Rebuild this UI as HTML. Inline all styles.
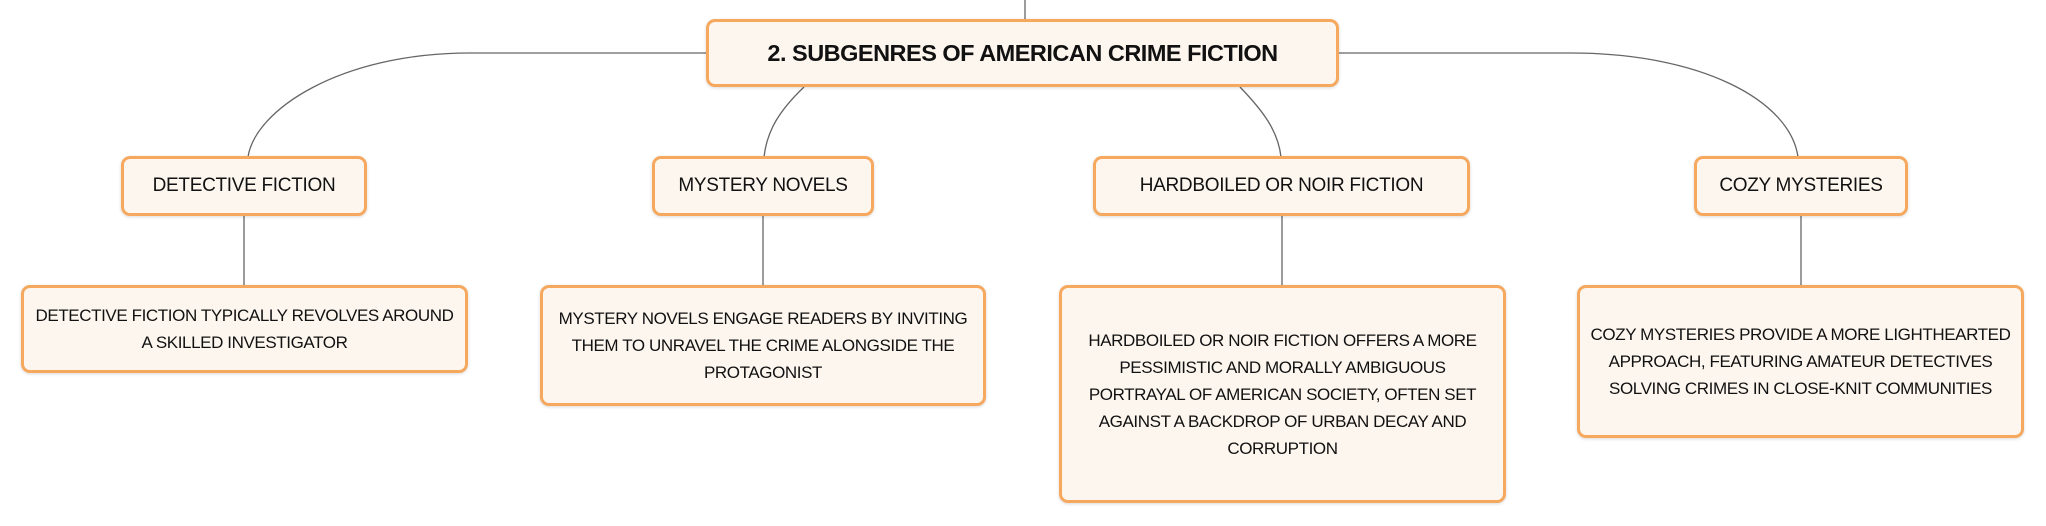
<!DOCTYPE html>
<html><head><meta charset="utf-8"><style>
html,body{margin:0;padding:0;background:#fff;}
body{width:2046px;height:526px;position:relative;overflow:hidden;font-family:"Liberation Sans",sans-serif;}
.b{position:absolute;box-sizing:border-box;background:#fdf6ef;border:3px solid #f5a85e;border-radius:9px;display:flex;align-items:center;justify-content:center;text-align:center;color:#111;box-shadow:0 1px 3px rgba(0,0,0,0.15);}
.t{font-size:19px;white-space:nowrap;letter-spacing:-0.3px;}
.d{font-size:17px;line-height:27px;white-space:nowrap;letter-spacing:-0.4px;}
svg{position:absolute;left:0;top:0;}
</style></head><body>
<svg width="2046" height="526" fill="none" stroke="#666" stroke-width="1.3">
<line x1="1025" y1="0" x2="1025" y2="20"/>
<path d="M706 53 L470 53 C340 53 255 110 248 157"/>
<path d="M804 87 C780 110 767 130 764 157"/>
<path d="M1240 87 C1262 110 1278 130 1281 157"/>
<path d="M1338 53 L1571 53 C1700 53 1790 100 1798 157"/>
<line x1="244" y1="216" x2="244" y2="286"/>
<line x1="763" y1="216" x2="763" y2="286"/>
<line x1="1282" y1="216" x2="1282" y2="286"/>
<line x1="1801" y1="216" x2="1801" y2="286"/>
</svg>
<div class="b" style="left:706px;top:19px;width:633px;height:68px;"><span style="font-size:23.5px;font-weight:bold;white-space:nowrap;letter-spacing:-0.5px;">2. SUBGENRES OF AMERICAN CRIME FICTION</span></div>
<div class="b t" style="left:121px;top:156px;width:246px;height:60px;">DETECTIVE FICTION</div>
<div class="b t" style="left:652px;top:156px;width:222px;height:60px;">MYSTERY NOVELS</div>
<div class="b t" style="left:1093px;top:156px;width:377px;height:60px;">HARDBOILED OR NOIR FICTION</div>
<div class="b t" style="left:1694px;top:156px;width:214px;height:60px;">COZY MYSTERIES</div>
<div class="b d" style="left:21px;top:285px;width:447px;height:88px;">DETECTIVE FICTION TYPICALLY REVOLVES AROUND<br>A SKILLED INVESTIGATOR</div>
<div class="b d" style="left:540px;top:285px;width:446px;height:121px;">MYSTERY NOVELS ENGAGE READERS BY INVITING<br>THEM TO UNRAVEL THE CRIME ALONGSIDE THE<br>PROTAGONIST</div>
<div class="b d" style="left:1059px;top:285px;width:447px;height:218px;">HARDBOILED OR NOIR FICTION OFFERS A MORE<br>PESSIMISTIC AND MORALLY AMBIGUOUS<br>PORTRAYAL OF AMERICAN SOCIETY, OFTEN SET<br>AGAINST A BACKDROP OF URBAN DECAY AND<br>CORRUPTION</div>
<div class="b d" style="left:1577px;top:285px;width:447px;height:153px;">COZY MYSTERIES PROVIDE A MORE LIGHTHEARTED<br>APPROACH, FEATURING AMATEUR DETECTIVES<br>SOLVING CRIMES IN CLOSE-KNIT COMMUNITIES</div>
</body></html>
